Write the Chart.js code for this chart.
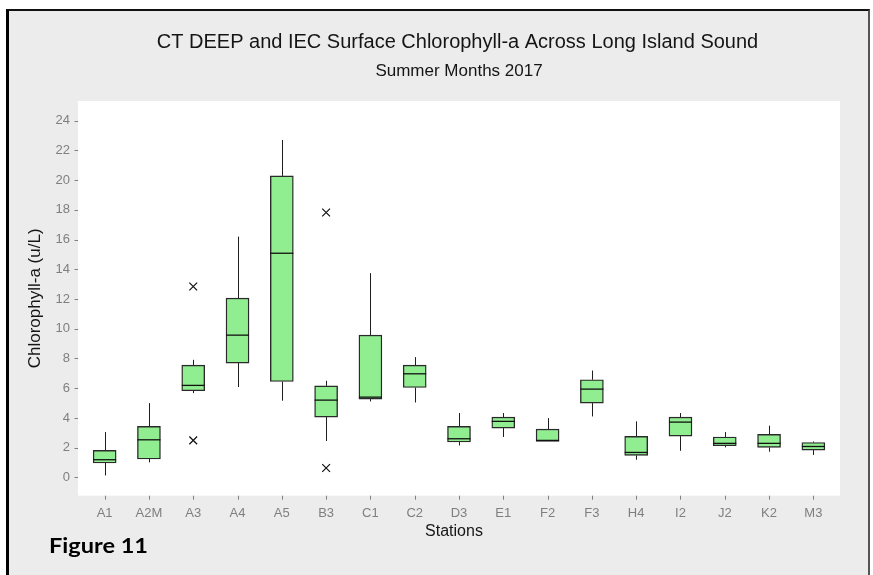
<!DOCTYPE html>
<html>
<head>
<meta charset="utf-8">
<script src="https://cdn.jsdelivr.net/npm/chart.js@4.4.0/dist/chart.umd.min.js"></script>
<style>
	html, body { margin: 0; padding: 0; background: #fff; }
	#frame {
		position: absolute; left: 6px; top: 9px; width: 864px; height: 575px;
		box-sizing: border-box; background: #ececec;
		border-top: 2px solid #111; border-left: 3px solid #000; border-right: 2px solid #555;
	}
	#box_chart { position: absolute; left: 0; top: 0; }
</style>
</head>
<body>
<div id="frame"></div>
<canvas id="box_chart" width="873" height="575"></canvas>
<script>
// box plot values, one entry per station
const stations = ['A1', 'A2M', 'A3', 'A4', 'A5', 'B3', 'C1', 'C2', 'D3', 'E1', 'F2', 'F3', 'H4', 'I2', 'J2', 'K2', 'M3'];
const whisker_low  = [0.13, 1.01, 5.67, 6.08, 5.16, 2.45, 5.11, 5.04, 2.15, 2.72, 2.42, 4.10, 1.19, 1.79, 2.02, 1.73, 1.51];
const q1           = [0.97, 1.24, 5.83, 7.69, 6.45, 4.06, 5.27, 6.05, 2.38, 3.32, 2.42, 5.00, 1.48, 2.78, 2.13, 2.02, 1.84];
const median       = [1.19, 2.53, 6.19, 9.57, 15.08, 5.20, 5.40, 6.97, 2.60, 3.77, 2.49, 5.94, 1.68, 3.72, 2.29, 2.29, 2.08];
const q3           = [1.82, 3.43, 7.55, 12.06, 20.28, 6.16, 9.57, 7.55, 3.43, 4.06, 3.25, 6.57, 2.76, 4.06, 2.72, 2.89, 2.35];
const whisker_high = [3.05, 5.00, 7.91, 16.20, 22.70, 6.50, 13.74, 8.09, 4.33, 4.33, 3.99, 7.19, 3.77, 4.33, 3.05, 3.48, 2.42];

const outlier_stations = ['A3', 'A3', 'B3', 'B3'];
const outlier_values   = [12.84, 2.49, 17.82, 0.63];

const y_min = -1.23;
const y_max = 25.32;
const y_step = 2;

const chart_title = 'CT DEEP and IEC Surface Chlorophyll-a Across Long Island Sound';
const chart_subtitle = 'Summer Months 2017';
const x_title = 'Stations';
const y_title = 'Chlorophyll-a (u/L)';
const figure_label = 'Figure 11';

const box_data = stations.map((s, i) => [q1[i], q3[i]]);
const outlier_data = outlier_stations.map((s, i) => ({x: s, y: outlier_values[i]}));

const box_plot_plugin = {
	id: 'box_plot_plugin',
	beforeDraw(chart) {
		const {ctx, chartArea: a} = chart;
		ctx.save();
		ctx.fillStyle = '#ffffff';
		ctx.fillRect(a.left - 4.5, a.top, a.right - a.left + 9, a.bottom - a.top);
		ctx.restore();
	},
	beforeDatasetsDraw(chart) {
		// whiskers, drawn under the boxes
		const {ctx, scales: {x, y}} = chart;
		ctx.save();
		ctx.strokeStyle = '#1e1e1e';
		ctx.lineWidth = 1;
		stations.forEach((s, i) => {
			const px = Math.round(x.getPixelForValue(i)) + 0.5;
			ctx.beginPath();
			ctx.moveTo(px, y.getPixelForValue(whisker_high[i]));
			ctx.lineTo(px, y.getPixelForValue(q3[i]));
			ctx.moveTo(px, y.getPixelForValue(q1[i]));
			ctx.lineTo(px, y.getPixelForValue(whisker_low[i]));
			ctx.stroke();
		});
		ctx.restore();
	},
	afterDatasetsDraw(chart) {
		const {ctx, chartArea: a, scales: {x, y}} = chart;
		ctx.save();
		// medians
		ctx.strokeStyle = '#111';
		ctx.lineWidth = 1.3;
		stations.forEach((s, i) => {
			const px = x.getPixelForValue(i);
			const py = y.getPixelForValue(median[i]);
			ctx.beginPath();
			ctx.moveTo(px - 11.5, py);
			ctx.lineTo(px + 11.5, py);
			ctx.stroke();
		});
		// tick marks
		ctx.strokeStyle = '#808080';
		ctx.lineWidth = 1;
		y.ticks.forEach(t => {
			const py = Math.round(y.getPixelForValue(t.value)) + 0.5;
			ctx.beginPath();
			ctx.moveTo(a.left - 8, py);
			ctx.lineTo(a.left - 4.5, py);
			ctx.stroke();
		});
		stations.forEach((s, i) => {
			const px = Math.round(x.getPixelForValue(i)) + 0.5;
			ctx.beginPath();
			ctx.moveTo(px, a.bottom);
			ctx.lineTo(px, a.bottom + 4);
			ctx.stroke();
		});
		ctx.restore();
	},
	afterDraw(chart) {
		const {ctx, chartArea: a} = chart;
		const cx = (a.left + a.right) / 2;
		ctx.save();
		ctx.fillStyle = '#151515';
		ctx.textAlign = 'center';
		ctx.textBaseline = 'middle';
		ctx.font = '20px "Liberation Sans", Arial, sans-serif';
		ctx.fillText(chart_title, cx - 1.5, 42);
		ctx.font = '17px "Liberation Sans", Arial, sans-serif';
		ctx.fillText(chart_subtitle, cx, 71);
		ctx.font = '16px "Liberation Sans", Arial, sans-serif';
		ctx.fillText(x_title, cx - 5, 532);
		ctx.save();
		ctx.translate(35, (a.top + a.bottom) / 2);
		ctx.rotate(-Math.PI / 2);
		ctx.font = '17px "Liberation Sans", Arial, sans-serif';
		ctx.fillText(y_title, 0, 0);
		ctx.restore();
		// the figure label in the reference is a wide bold overlay
		ctx.font = 'bold 20px Lato, "Open Sans", sans-serif';
		ctx.textAlign = 'left';
		ctx.textBaseline = 'alphabetic';
		ctx.fillStyle = '#000';
		const sx = 99 / ctx.measureText(figure_label).width;
		ctx.translate(49, 553);
		ctx.scale(sx, 1);
		ctx.fillText(figure_label, 0, 0);
		ctx.restore();
	}
};

const ctx = document.getElementById('box_chart').getContext('2d');
const box_chart = new Chart(ctx, {
	type: 'bar',
	data: {
		labels: stations,
		datasets: [{
			label: 'Chlorophyll-a',
			data: box_data,
			backgroundColor: '#90ee90',
			borderColor: '#2a2a2a',
			borderWidth: 1.4,
			borderSkipped: false,
			barThickness: 23,
			order: 1
		}, {
			type: 'line',
			label: 'Outliers',
			data: outlier_data,
			showLine: false,
			pointStyle: 'crossRot',
			pointRadius: 5.5,
			pointHoverRadius: 5.5,
			borderColor: '#111',
			backgroundColor: '#111',
			borderWidth: 1.2,
			order: 0
		}]
	},
	options: {
		responsive: false,
		animation: false,
		devicePixelRatio: 1,
		layout: {
			padding: {left: 42.5, right: 37.5, top: 101, bottom: 49.3}
		},
		scales: {
			x: {
				type: 'category',
				offset: true,
				grid: {display: false, drawTicks: false},
				border: {display: false},
				ticks: {
					color: '#7f7f7f',
					padding: 10,
					maxRotation: 0,
					autoSkip: false,
					font: {family: '"Liberation Sans", Arial, sans-serif', size: 13}
				},
				afterFit: function(scale) { scale.height = 30; }
			},
			y: {
				min: y_min,
				max: y_max,
				grid: {display: false, drawTicks: false},
				border: {display: false},
				ticks: {
					stepSize: y_step,
					includeBounds: false,
					color: '#7f7f7f',
					padding: 12.5,
					font: {family: '"Liberation Sans", Arial, sans-serif', size: 13}
				},
				afterFit: function(scale) { scale.width = 40; }
			}
		},
		plugins: {
			legend: {display: false},
			tooltip: {enabled: false},
			title: {display: false}
		}
	},
	plugins: [box_plot_plugin]
});
</script>
</body>
</html>
